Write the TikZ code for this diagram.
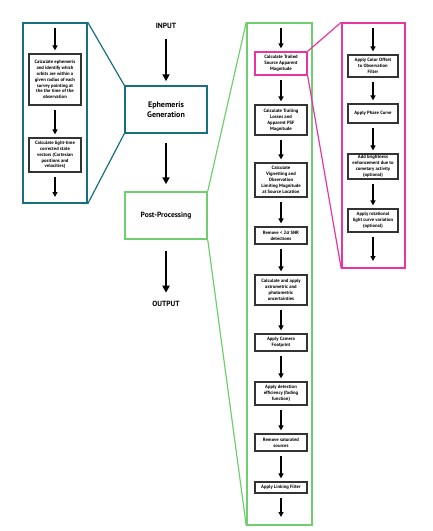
\documentclass[tikz,border=0pt]{standalone}
\usepackage{fontspec}
\setmainfont{PT Sans}
\newfontfamily\greekfont{Open Sans}
\usetikzlibrary{arrows.meta}
\definecolor{ephemcol}{HTML}{17707F}
\definecolor{postcol}{HTML}{6FCF6F}
\definecolor{magcol}{HTML}{E8359F}
\tikzset{
  stepbox/.style={draw=black!80, line width=1.1pt, fill=white, align=center, inner sep=0.5pt,
    font=\bfseries\fontsize{4.7}{5.9}\selectfont},
  flow/.style={-{Triangle[width=5pt,length=5pt]}, line width=1.4pt, shorten <=4pt, shorten >=3pt},
  mainflow/.style={-{Triangle[width=7pt,length=7pt]}, line width=1.8pt},
  panel/.style={line width=1.5pt, minimum width=#1},
  mainbox/.style={draw, line width=1.5pt, minimum width=82pt, minimum height=47pt, align=center,
    font=\bfseries\fontsize{8}{10}\selectfont},
}
\begin{document}
\begin{tikzpicture}[x=1pt, y=-1pt]
  \useasboundingbox (0,0) rectangle (433,531);
  % main flow
  \node[font=\bfseries\fontsize{7.5}{9}\selectfont] (input) at (166,26) {INPUT};
  \node[mainbox, draw=ephemcol] (ephem) at (166,109.5) {Ephemeris\\Generation};
  \node[mainbox, draw=postcol, font=\bfseries\fontsize{7.5}{9}\selectfont] (post) at (166,215.5) {Post-Processing};
  \node[font=\bfseries\fontsize{7.5}{9}\selectfont] (output) at (166,304) {OUTPUT};
  \draw[mainflow, shorten <=7pt, shorten >=4pt] (input) -- (ephem);
  \draw[mainflow, shorten <=9pt, shorten >=7pt] (ephem) -- (post);
  \draw[mainflow, shorten <=11pt, shorten >=5pt] (post) -- (output);

  % ephemeris panel
  \node[draw=ephemcol, panel=64pt, minimum height=180pt] (ephpanel) at (55,113) {};
  \draw[ephemcol, line width=1.2pt] (ephpanel.north east) -- (ephem.north west);
  \draw[ephemcol, line width=1.2pt] (ephpanel.south east) -- (ephem.south west);
  \coordinate (etop) at (55,23);
  \coordinate (ebot) at (55,203);
  \node[stepbox, minimum width=52pt, minimum height=51pt] (e1) at (55,79.5)
    {Calculate ephemeris\\and identify which\\orbits are within a\\given radius of each\\survey pointing at\\the the time of the\\observation};
  \node[stepbox, minimum width=52pt, minimum height=34pt] (e2) at (55,155)
    {Calculate light-time\\corrected state\\vectors (Cartesian\\positions and\\velocities)};
  \draw[flow, shorten <=5pt] (etop) -- (e1);
  \draw[flow] (e1) -- (e2);
  \draw[flow, shorten >=6pt] (e2) -- (ebot);

  % post-processing panel
  \node[draw=postcol, panel=65pt, minimum height=502pt] (postpanel) at (279.5,274) {};
  \draw[postcol, line width=1.2pt] (post.north east) -- (postpanel.north west);
  \draw[postcol, line width=1.2pt] (post.south east) -- (postpanel.south west);
  \coordinate (gtop) at (281,23);
  \coordinate (gbot) at (281,525);
  \node[stepbox, draw=magcol, line width=1.3pt, minimum width=52pt, minimum height=23pt] (g1) at (281,63.5)
    {Calculate Trailed\\Source Apparent\\Magnitude};
  \node[stepbox, minimum width=52pt, minimum height=30pt] (g2) at (281,120)
    {Calculate Trailing\\Losses and\\Apparent PSF\\Magnitude};
  \node[stepbox, minimum width=52pt, minimum height=34pt] (g3) at (281,180)
    {Calculate\\Vignetting and\\Observation\\Limiting Magnitude\\at Source Location};
  \node[stepbox, minimum width=52pt, minimum height=17pt] (g4) at (281,235.5)
    {Remove < 2{\greekfont σ} SNR\\detections};
  \node[stepbox, minimum width=52pt, minimum height=30pt] (g5) at (281,290)
    {Calculate and apply\\astrometric and\\photometric\\uncertainties};
  \node[stepbox, minimum width=52pt, minimum height=17pt] (g6) at (281,342.5)
    {Apply Camera\\Footprint};
  \node[stepbox, minimum width=52pt, minimum height=23pt] (g7) at (281,393.5)
    {Apply detection\\efficiency (fading\\function)};
  \node[stepbox, minimum width=52pt, minimum height=17pt] (g8) at (281,442.5)
    {Remove saturated\\sources};
  \node[stepbox, minimum width=52pt, minimum height=11pt] (g9) at (281,487.5)
    {Apply Linking Filter};
  \draw[flow, shorten <=5pt] (gtop) -- (g1);
  \foreach \a/\b in {g1/g2, g2/g3, g3/g4, g4/g5, g5/g6, g6/g7, g7/g8, g8/g9}
    \draw[flow] (\a) -- (\b);
  \draw[flow, shorten >=8pt] (g9) -- (gbot);

  % magnitude panel
  \node[draw=magcol, panel=63pt, minimum height=245pt] (magpanel) at (373.5,145.5) {};
  \draw[magcol, line width=1.2pt] (g1.north east) -- (magpanel.north west);
  \draw[magcol, line width=1.2pt] (g1.south east) -- (magpanel.south west);
  \coordinate (mtop) at (373,23);
  \coordinate (mbot) at (373,268);
  \node[stepbox, minimum width=50pt, minimum height=22pt] (m1) at (373,66)
    {Apply Color Offset\\to Observation\\Filter};
  \node[stepbox, minimum width=50pt, minimum height=19pt] (m2) at (373,113.5)
    {Apply Phase Curve};
  \node[stepbox, minimum width=50pt, minimum height=25pt] (m3) at (373,166.5)
    {Add brightness\\enhancement due to\\cometary activity\\(optional)};
  \node[stepbox, minimum width=50pt, minimum height=23pt] (m4) at (373,220.5)
    {Apply rotational\\light curve variation\\(optional)};
  \draw[flow, shorten <=5pt] (mtop) -- (m1);
  \foreach \a/\b in {m1/m2, m2/m3, m3/m4}
    \draw[flow] (\a) -- (\b);
  \draw[flow, shorten >=7pt] (m4) -- (mbot);
\end{tikzpicture}
\end{document}
